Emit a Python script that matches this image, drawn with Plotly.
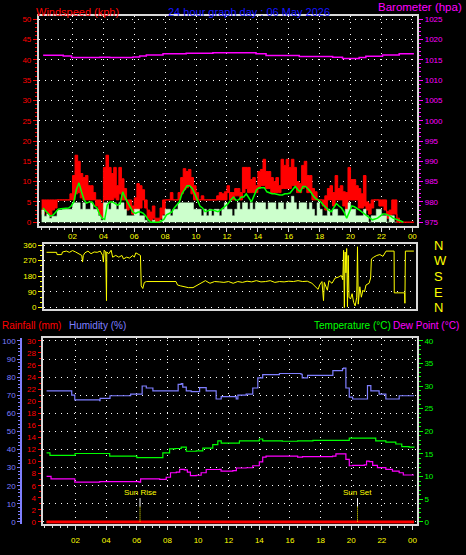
import plotly.graph_objects as go
import pandas as pd
import numpy as np

W, H = 466, 555
BASE = pd.Timestamp("2026-05-06 00:00")
FONT = "Liberation Sans, Arial, sans-serif"

RED = "#ff0000"
MAG = "#ff00ff"
YEL = "#ffff00"
GRN = "#00ff00"
LGRN = "#ccffcc"
HUMC = "#7f7fff"
FRAME = "#d8d8d8"


def ts(hours):
    return [BASE + pd.Timedelta(hours=float(h)) for h in hours]


# ---------------- data ----------------
# 10-minute bins, 00:00 .. 23:50
wind_hours = [k / 6 for k in range(144)]
gust_hi = [5.5, 5.5, 5.5, 5.5, 5.5, 5.5,
           5.5, 5.5, 5.5, 5.5, 5.5, 7.0,
           11.5, 16.5, 15.0, 12.0, 11.0, 11.5,
           9.0, 9.0, 7.3, 5.5, 5.5, 4.6,
           13.5, 16.5, 13.5, 12.0, 13.5, 9.0,
           13.5, 10.7, 8.3, 5.5, 5.5, 4.0,
           6.0, 9.5, 9.0, 8.0, 5.5, 3.0,
           2.5, 4.0, 1.0, 1.0, 3.5, 5.5,
           5.5, 5.5, 7.3, 5.5, 5.5, 7.3,
           11.0, 13.2, 12.5, 13.0, 11.0, 9.0,
           7.3, 5.5, 6.5, 5.5, 5.5, 5.5,
           5.5, 5.5, 6.5, 7.3, 7.0, 7.5,
           9.0, 7.3, 7.3, 8.3, 8.3, 7.3,
           13.5, 13.5, 13.5, 10.5, 11.0, 9.0,
           12.5, 13.0, 15.5, 12.5, 12.5, 11.0,
           10.0, 11.0, 9.0, 15.5, 14.0, 15.5,
           13.5, 15.5, 13.5, 10.0, 9.5, 14.0,
           15.0, 11.5, 11.5, 8.3, 7.5, 5.5,
           5.5, 5.5, 6.5, 8.3, 9.0, 7.3,
           11.5, 8.3, 9.0, 7.5, 7.3, 13.5,
           10.5, 10.5, 9.0, 8.3, 7.0, 11.5,
           5.0, 4.5, 5.5, 5.5, 5.5, 5.5,
           5.5, 5.5, 2.6, 3.0, 5.5, 5.5,
           1.0, 0.0, 0.0, 0.0, 0.0, 0.0]
gust_lo = [2.0, 3.0, 2.0, 1.5, 3.0, 3.5,
           5.5, 5.5, 5.5, 5.5, 5.5, 5.5,
           5.5, 7.0, 7.3, 6.0, 5.5, 5.5,
           5.5, 5.5, 5.5, 4.0, 2.0, 1.0,
           5.5, 5.5, 5.5, 5.5, 6.0, 5.5,
           7.0, 5.5, 5.5, 3.0, 3.5, 2.0,
           3.0, 3.0, 3.5, 5.5, 3.5, 1.0,
           0.5, 1.0, 0.0, 0.0, 1.0, 2.0,
           5.5, 5.5, 5.5, 5.5, 5.5, 5.5,
           7.0, 8.0, 8.5, 9.0, 7.0, 5.5,
           5.5, 5.5, 5.5, 5.5, 5.5, 5.5,
           5.5, 5.5, 5.5, 5.5, 5.5, 5.5,
           7.3, 5.5, 5.5, 6.5, 6.5, 5.5,
           7.3, 8.3, 7.3, 7.3, 7.3, 7.3,
           8.3, 9.0, 9.0, 8.3, 8.3, 7.3,
           7.3, 7.3, 7.3, 8.3, 8.3, 8.3,
           8.3, 9.0, 9.0, 7.3, 7.3, 8.3,
           9.0, 7.3, 7.3, 5.5, 5.5, 5.5,
           5.5, 4.0, 3.0, 5.5, 5.5, 4.0,
           5.5, 5.5, 5.5, 4.0, 3.0, 5.5,
           5.5, 5.5, 5.5, 3.5, 3.5, 4.0,
           3.0, 2.0, 3.5, 5.5, 5.5, 4.0,
           4.0, 3.0, 1.0, 1.0, 2.0, 2.0,
           0.0, 0.0, 0.0, 0.0, 0.0, 0.0]
wind_speed = [3.0, 1.5, 2.0, 1.0, 1.5, 1.5,
              3.0, 3.0, 3.2, 3.2, 3.2, 3.2,
              4.8, 4.8, 4.8, 3.2, 4.8, 3.2,
              3.2, 4.8, 3.2, 3.2, 1.6, 0.5,
              4.8, 4.8, 3.2, 4.8, 4.8, 3.2,
              4.8, 4.8, 3.2, 1.6, 1.6, 1.6,
              3.2, 3.2, 1.6, 1.6, 0.5, 0.0,
              0.0, 0.5, 0.0, 0.0, 0.5, 1.6,
              3.2, 3.2, 1.6, 3.2, 3.2, 4.8,
              4.8, 4.8, 4.8, 4.8, 4.8, 3.2,
              3.2, 3.2, 1.6, 3.2, 1.6, 3.2,
              1.6, 3.2, 3.2, 1.6, 3.2, 4.8,
              3.2, 3.2, 1.6, 3.2, 4.8, 3.2,
              4.8, 4.8, 3.2, 4.8, 3.2, 4.8,
              4.8, 4.8, 4.8, 3.2, 4.8, 4.8,
              4.8, 3.2, 4.8, 4.8, 3.2, 4.8,
              4.8, 6.4, 4.8, 3.2, 4.8, 4.8,
              4.8, 3.2, 4.8, 3.2, 1.6, 4.8,
              3.2, 1.6, 1.6, 3.2, 1.6, 3.2,
              3.2, 1.6, 1.6, 1.6, 3.2, 4.8,
              3.2, 3.2, 1.6, 1.6, 1.6, 3.2,
              1.6, 0.0, 1.6, 1.6, 3.2, 3.2,
              1.6, 1.6, 0.0, 1.6, 1.6, 0.0,
              0.0]
wind_avg = [3.5, 2.8, 2.0, 1.5, 1.8, 2.5,
            3.2, 3.3, 3.4, 3.4, 3.5, 4.0,
            5.0, 8.0, 9.7, 7.5, 5.5, 4.7,
            5.0, 5.0, 4.0, 3.5, 2.0, 1.0,
            0.7, 4.2, 5.0, 5.0, 4.7, 4.2,
            4.5, 7.5, 6.0, 4.7, 3.5, 2.5,
            2.2, 2.5, 2.5, 2.2, 1.5, 0.5,
            0.0, 0.0, 0.0, 0.0, 0.3, 0.7,
            1.8, 2.2, 2.5, 3.5, 4.2, 5.0,
            7.0, 8.0, 9.0, 9.0, 8.3, 7.0,
            5.5, 4.0, 3.5, 2.6, 2.8, 3.0,
            3.0, 2.8, 2.6, 3.0, 3.5, 4.0,
            4.6, 5.5, 6.2, 5.4, 5.5, 6.2,
            6.2, 7.0, 6.0, 5.0, 6.5, 8.0,
            8.5, 8.5, 8.5, 7.5, 7.2, 7.0,
            7.0, 6.8, 6.7, 6.7, 7.0, 7.0,
            7.2, 8.0, 8.8, 8.0, 7.5, 8.8,
            8.8, 8.2, 7.5, 6.5, 5.8, 5.5,
            5.0, 4.2, 3.5, 3.0, 2.6, 3.5,
            4.6, 4.0, 3.5, 2.5, 1.0, 2.5,
            4.0, 3.8, 3.5, 3.0, 2.5, 2.0,
            1.5, 1.0, 0.6, 0.8, 1.0, 1.5,
            2.0, 2.0, 1.8, 1.5, 1.0, 0.8,
            0.6, 0.3, 0.0]
wind_end_hour = 24.1

baro_hours = [0.1, 1.4, 1.94, 3.76, 4.41, 5.92, 6.35, 6.78, 7.86, 9.36, 11.09,
              13.88, 14.53, 16.68, 18.84, 19.48, 20.56, 20.99, 22.07, 23.15, 24.1]
baro_vals = [1016.13, 1015.96, 1015.56, 1015.64, 1015.56, 1015.72, 1015.96, 1016.2,
             1016.52, 1016.6, 1016.76, 1016.52, 1016.04, 1015.8, 1015.64, 1015.3,
             1015.56, 1015.88, 1016.2, 1016.52, 1016.52]

dir_hours = [0.32, 0.97, 1.0, 1.3, 1.35, 1.6, 1.8, 2.0, 2.2, 2.4, 2.6, 2.65, 2.7, 2.8,
             3.0, 3.2, 3.4, 3.6, 3.8, 3.95, 4.0, 4.05, 4.15, 4.2, 4.22, 4.35, 4.5,
             4.6, 4.8, 5.0, 5.2, 5.3, 5.5, 5.7, 5.9, 6.0, 6.1, 6.3, 6.4, 6.45, 6.55,
             6.65, 6.8, 8.7, 8.8, 9.0, 9.3, 9.5, 9.8, 10.0, 10.3, 10.6, 10.9, 11.2,
             11.5, 11.8, 12.1, 12.4, 12.7, 13.0, 13.3, 13.6, 13.9, 14.2, 14.5, 14.8,
             15.1, 15.4, 15.7, 16.0, 16.3, 16.6, 16.9, 17.2, 17.5, 17.7, 17.9, 18.0,
             18.15, 18.25, 18.3, 18.5, 18.6, 18.8, 19.0, 19.2, 19.4, 19.5, 19.55,
             19.6, 19.65, 19.7, 19.75, 19.8, 19.85, 19.9, 20.0, 20.1, 20.2, 20.3,
             20.4, 20.45, 20.5, 20.6, 20.7, 20.8, 20.9, 21.0, 21.2, 21.3, 21.35,
             21.5, 21.7, 21.9, 22.1, 22.3, 22.82, 22.83, 23.5, 23.52, 23.55, 24.1]
dir_vals = [318, 318, 305, 305, 320, 325, 318, 328, 320, 312, 300, 262, 300, 315,
            325, 310, 320, 318, 325, 300, 262, 330, 320, 40, 320, 310, 330,
            290, 300, 290, 300, 280, 290, 285, 300, 290, 315, 305, 300, 125, 110,
            145, 150, 150, 130, 125, 120, 115, 115, 125, 140, 155, 140, 150,
            148, 145, 150, 140, 150, 145, 152, 148, 155, 148, 150, 155,
            145, 150, 148, 152, 150, 155, 150, 152, 140, 125, 105, 130,
            150, 40, 145, 100, 155, 140, 170, 175, 185, 160, 330,
            0, 320, 200, 340, 5, 300, 60, 50, 80, 30, 10,
            60, 350, 20, 120, 60, 100, 90, 130, 140, 170, 280,
            290, 300, 305, 295, 325, 325, 85, 85, 25, 325, 325]

hum_hours = [0.11, 1.63, 1.75, 1.95, 3.58, 3.6, 4.23, 4.25, 5.54, 5.6, 6.3, 6.35, 6.62,
             7.05, 8.58, 8.7, 8.9, 9.0, 9.23, 9.55, 10.1, 10.53, 11.18, 11.51, 12.49,
             12.6, 13.14, 13.57, 13.9, 14.22, 15.31, 16.72, 16.8, 17.04, 17.15, 18.78,
             18.8, 19.43, 19.5, 19.65, 19.87, 20.09, 20.96, 21.06, 21.28, 21.82, 22.26,
             23.13, 24.1]
hum_vals = [72.4, 72.4, 70.0, 67.4, 67.0, 68.3, 68.3, 69.7, 69.7, 70.6, 70.6, 75.1, 74.0,
            72.4, 72.4, 76.0, 76.4, 74.5, 72.4, 72.0, 74.2, 72.4, 67.9, 69.2, 67.9,
            70.0, 70.6, 74.0, 79.6, 81.4, 82.0, 81.6, 79.6, 79.6, 81.0, 81.0,
            83.6, 84.7, 85.0, 74.0, 69.0, 67.9, 67.9, 75.3, 72.4, 70.6, 67.9,
            69.7, 69.7]

temp_hours = [0.11, 0.33, 1.95, 1.97, 4.02, 4.23, 5.97, 6.0, 7.05, 7.7, 8.14, 8.5, 8.9,
              9.23, 9.88, 10.31, 10.96, 11.29, 11.51, 12.27, 12.7, 13.79, 14.0, 14.22,
              15.5, 16.5, 17.5, 18.78, 19.87, 21.17, 21.6, 22.26, 22.91, 23.3, 23.78, 24.1]
temp_vals = [15.25, 14.7, 14.7, 15.1, 15.1, 14.5, 14.5, 14.2, 14.2, 15.25, 16.1, 16.2, 16.5,
             15.6, 15.7, 16.3, 17.05, 17.9, 17.4, 17.4, 17.9, 17.9, 18.3, 17.9,
             17.8, 17.9, 18.0, 18.0, 18.5, 18.5, 17.9, 17.6, 17.2, 16.6, 16.5, 16.4]

dew_hours = [0.11, 0.4, 1.74, 1.95, 3.58, 4.23, 6.15, 6.25, 7.49, 7.92, 8.2, 8.58, 8.8,
             9.1, 9.3, 9.5, 9.88, 10.2, 10.53, 11.4, 11.5, 12.27, 12.5, 13.14, 13.57,
             14.0, 14.22, 14.44, 16.17, 16.5, 16.82, 18.78, 19.0, 19.54, 19.65, 19.87,
             20.09, 20.85, 21.0, 21.17, 21.4, 21.71, 22.26, 22.69, 23.13, 23.4, 24.1]
dew_vals = [10.07, 9.5, 9.5, 8.8, 8.9, 8.9, 8.8, 9.5, 9.4, 9.86, 10.85, 11.0, 11.6,
            11.5, 11.0, 10.2, 10.3, 10.85, 11.57, 11.6, 11.2, 11.3, 11.9, 11.95, 12.4,
            13.24, 14.32, 14.54, 14.54, 14.3, 14.4, 14.54, 15.0, 15.04, 13.8, 12.4,
            12.5, 12.6, 13.4, 13.3, 12.5, 12.0, 11.6, 11.2, 10.85, 10.35, 10.35]

rain_hours = [0.1, 24.1]
rain_vals = [0.0, 0.0]

sunrise_hour = 6.21
sunset_hour = 20.41

hour_ticks = [2, 4, 6, 8, 10, 12, 14, 16, 18, 20, 22, 24]
hour_labels = ["02", "04", "06", "08", "10", "12", "14", "16", "18", "20", "22", "00"]

# ---------------- geometry helpers (layout only) ----------------
def px_x(p):
    return p / W


def px_y(p):
    return 1 - p / H


def hrange(p0, p1, origin, scale):
    return ts([(p0 - origin) / scale, (p1 - origin) / scale])


fig = go.Figure()

# ---- top panel: wind ----
gx_lo = ts(wind_hours + [wind_end_hour])
fig.add_trace(go.Scatter(x=gx_lo, y=gust_lo + [gust_lo[-1]], mode="lines",
                         line=dict(color=RED, width=1, shape="hv"),
                         xaxis="x", yaxis="y", hoverinfo="skip"))
fig.add_trace(go.Scatter(x=gx_lo, y=gust_hi + [gust_hi[-1]], mode="lines",
                         line=dict(color=RED, width=1, shape="hv"), fill="tonexty",
                         fillcolor=RED, xaxis="x", yaxis="y", hoverinfo="skip"))
n_sp = len(wind_speed)
fig.add_trace(go.Scatter(x=ts(wind_hours[:n_sp]), y=wind_speed, mode="lines",
                         line=dict(color=LGRN, width=0.5, shape="hv"), fill="tozeroy",
                         fillcolor=LGRN, xaxis="x", yaxis="y", hoverinfo="skip"))
n_av = len(wind_avg)
fig.add_trace(go.Scatter(x=ts([h + 1 / 12 for h in wind_hours[:n_av]]), y=wind_avg,
                         mode="lines", line=dict(color=GRN, width=1.5),
                         xaxis="x", yaxis="y", hoverinfo="skip"))
fig.add_trace(go.Scatter(x=ts(baro_hours), y=baro_vals, mode="lines",
                         line=dict(color=MAG, width=1.5, shape="hv"),
                         xaxis="x", yaxis="y2", hoverinfo="skip"))

# ---- middle panel: direction ----
fig.add_trace(go.Scatter(x=ts(dir_hours), y=dir_vals, mode="lines",
                         line=dict(color=YEL, width=1), xaxis="x2", yaxis="y3",
                         hoverinfo="skip"))
fig.add_trace(go.Scatter(x=ts(dir_hours[:1]), y=dir_vals[:1], mode="lines",
                         line=dict(width=0), xaxis="x2", yaxis="y4",
                         hoverinfo="skip", showlegend=False))

# ---- bottom panel ----
fig.add_trace(go.Scatter(x=ts(temp_hours), y=temp_vals, mode="lines",
                         line=dict(color=GRN, width=1.2, shape="hv"),
                         xaxis="x3", yaxis="y5", hoverinfo="skip"))
fig.add_trace(go.Scatter(x=ts(dew_hours), y=dew_vals, mode="lines",
                         line=dict(color=MAG, width=1.2, shape="hv"),
                         xaxis="x3", yaxis="y5", hoverinfo="skip"))
fig.add_trace(go.Scatter(x=ts(hum_hours), y=hum_vals, mode="lines",
                         line=dict(color=HUMC, width=1.2, shape="hv"),
                         xaxis="x3", yaxis="y6", hoverinfo="skip"))
fig.add_trace(go.Scatter(x=ts(rain_hours), y=rain_vals, mode="lines",
                         line=dict(color=RED, width=3),
                         xaxis="x3", yaxis="y7", hoverinfo="skip"))

tickfont = lambda c: dict(family=FONT, size=8, color=c)
DOT = "1px,5.2px"

xcommon = dict(type="date", tickmode="array", tickvals=ts(hour_ticks), ticktext=hour_labels,
               tickfont=tickfont(YEL), showline=True, linecolor=FRAME, linewidth=1.5,
               mirror=True, zeroline=False)

fig.update_layout(
    width=W, height=H, autosize=False,
    margin=dict(l=0, r=0, t=0, b=0, pad=0),
    paper_bgcolor="#000000", plot_bgcolor="#000000",
    showlegend=False,
    xaxis=dict(**xcommon, domain=[px_x(39), px_x(418)],
               range=hrange(39, 418, 41.7, 15.48), anchor="y",
               ticks="outside", ticklen=4, tickcolor=FRAME, showticklabels=False,
               showgrid=True, gridcolor="#ffffff", griddash=DOT, gridwidth=1,
               minor=dict(dtick=1800000, tick0=BASE, ticklen=2, tickcolor=FRAME,
                          ticks="outside", showgrid=False)),
    yaxis=dict(domain=[px_y(225), px_y(10)], range=[-0.96, 50.84], anchor="x",
               tickmode="linear", tick0=0, dtick=5, tickfont=tickfont(RED),
               ticks="outside", ticklen=4, tickcolor=RED,
               showline=True, linecolor=FRAME, linewidth=2, zeroline=False,
               showgrid=True, gridcolor="#ffffff", griddash=DOT, gridwidth=1,
               minor=dict(dtick=1, tick0=0, ticklen=2, tickcolor=RED, ticks="outside",
                          showgrid=False)),
    yaxis2=dict(overlaying="y", side="right", anchor="x", range=[974.04, 1025.84],
                tickmode="linear", tick0=975, dtick=5, tickfont=tickfont(MAG),
                ticks="outside", ticklen=4, tickcolor=MAG,
                showline=True, linecolor=FRAME, linewidth=2, zeroline=False,
                showgrid=False,
                minor=dict(dtick=1, tick0=975, ticklen=2, tickcolor=MAG, ticks="outside")),
    xaxis2=dict(**xcommon, domain=[px_x(44), px_x(417)],
                range=hrange(44, 417, 41.7, 15.48), anchor="y3", side="top",
                ticks="", showticklabels=True, showgrid=False),
    yaxis3=dict(domain=[px_y(310), px_y(243)], range=[-9.6, 367.3], anchor="x2",
                tickmode="array", tickvals=[0, 90, 180, 270, 360],
                tickfont=tickfont(YEL), ticks="outside", ticklen=4, tickcolor=YEL,
                showline=True, linecolor=FRAME, linewidth=1.5, mirror=True,
                zeroline=False, showgrid=True, gridcolor="#ffffff", griddash=DOT,
                minor=dict(dtick=30, tick0=0, ticklen=2, tickcolor=YEL, ticks="outside",
                           showgrid=False)),
    yaxis4=dict(overlaying="y3", side="right", anchor="x2", range=[-9.6, 367.3],
                tickmode="array", tickvals=[0, 90, 180, 270, 360],
                ticktext=["N", "E", "S", "W", "N"],
                tickfont=dict(family=FONT, size=13, color=YEL), ticks="",
                ticklabelstandoff=17, showline=False, showgrid=False, zeroline=False),
    xaxis3=dict(**xcommon, domain=[px_x(42.7), px_x(417.7)],
                range=hrange(42.7, 417.7, 45.0, 15.35), anchor="y5",
                ticks="outside", ticklen=4, tickcolor=FRAME, ticklabelstandoff=4,
                showgrid=True, gridcolor="#ffffff", griddash=DOT, gridwidth=1,
                minor=dict(dtick=1800000, tick0=BASE, ticklen=2, tickcolor=FRAME,
                           ticks="outside", showgrid=False)),
    yaxis5=dict(domain=[px_y(529.3), px_y(339)], range=[-0.43, 40.67], anchor="x3",
                side="right", tickmode="linear", tick0=0, dtick=5,
                tickfont=tickfont(GRN), ticks="outside", ticklen=4, tickcolor=GRN,
                showline=True, linecolor=FRAME, linewidth=2, zeroline=False,
                showgrid=False,
                minor=dict(dtick=1, tick0=0, ticklen=2, tickcolor=GRN, ticks="outside")),
    yaxis6=dict(overlaying="y5", side="left", anchor="free", position=px_x(21.3),
                range=[-1.08, 101.8], tickmode="linear", tick0=0, dtick=10,
                tickfont=tickfont(HUMC), ticks="outside", ticklen=3, tickcolor=HUMC,
                showline=True, linecolor=HUMC, linewidth=2, zeroline=False,
                showgrid=True, gridcolor="#ffffff", griddash=DOT, gridwidth=1,
                minor=dict(dtick=2, tick0=0, ticklen=2, tickcolor=HUMC, ticks="outside",
                           showgrid=False)),
    yaxis7=dict(overlaying="y5", side="left", anchor="x3", range=[-0.32, 30.53],
                tickmode="linear", tick0=0, dtick=2, tickfont=tickfont(RED),
                ticks="outside", ticklen=3, tickcolor=RED,
                showline=True, linecolor=FRAME, linewidth=2, zeroline=False,
                showgrid=False,
                minor=dict(dtick=1, tick0=0, ticklen=2, tickcolor=RED, ticks="outside")),
)

# ---- titles ----
def title(text, x, y, color, anchor="left", size=11, yanchor="middle"):
    fig.add_annotation(text=text, x=px_x(x), y=px_y(y), xref="paper", yref="paper",
                       xanchor=anchor, yanchor=yanchor, showarrow=False,
                       font=dict(family=FONT, size=size, color=color))


title("Windspeed (kph)", 34, 6, RED)
title("24 hour graph day : 06 May 2026", 250, 6, "#1515ff", anchor="center")
title("Barometer (hpa)", 465, 9.5, MAG, anchor="right", size=11.5, yanchor="bottom")
title("Rainfall (mm)", 0, 327, RED, size=10)
title("Humidity (%)", 67, 327, HUMC, size=10)
title("Temperature (°C)", 313, 327, GRN, size=10)
title("Dew Point (°C)", 392, 327, MAG, size=10)

# ---- sun rise / sun set markers ----
for hour, label in [(sunrise_hour, "Sun Rise"), (sunset_hour, "Sun Set")]:
    t = ts([hour])[0]
    fig.add_shape(type="line", xref="x3", yref="paper", x0=t, x1=t,
                  y0=px_y(503), y1=px_y(511.7), line=dict(color="#ffffff", width=1))
    fig.add_shape(type="line", xref="x3", yref="paper", x0=t, x1=t,
                  y0=px_y(511.7), y1=px_y(527), line=dict(color=YEL, width=1, dash="1px,1px"))
    fig.add_annotation(text=label, x=t, y=px_y(497.7), xref="x3", yref="paper",
                       xanchor="center", yanchor="middle", showarrow=False,
                       font=dict(family=FONT, size=8, color=YEL))

fig.write_html("out.html",
               config={"displayModeBar": False},
               post_script="document.body.style.margin='0px';"
                           "document.body.style.overflow='hidden';"
                           "document.body.style.background='#000';")
